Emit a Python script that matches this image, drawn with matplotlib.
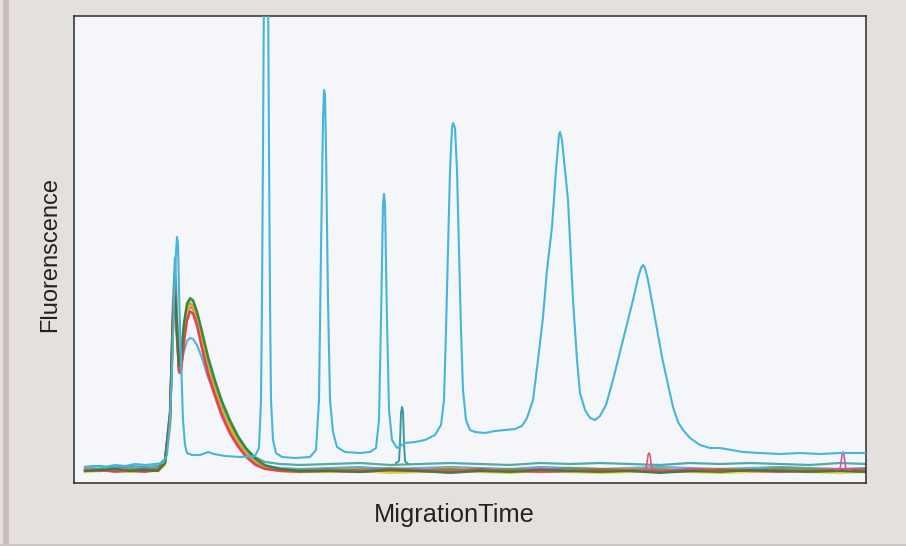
import matplotlib
matplotlib.use("Agg")
import matplotlib.pyplot as plt
from matplotlib.patches import Rectangle

# ---------------- data (time in arbitrary units, fluorescence in arbitrary units) -------------
ladder_time = [85, 95, 105, 115, 125, 135, 145, 155, 163, 167, 170, 172, 174, 176, 177, 178, 179, 181,
               183, 185, 187, 192, 200, 208, 214, 225, 240, 255, 259, 261, 262, 263, 264, 268, 269, 270,
               271, 273, 276, 282, 295, 310, 316, 319, 321, 323, 324, 325, 326, 328, 330, 333, 337, 345,
               360, 370, 376, 379, 381, 383, 384, 385, 387, 389, 392, 397, 405, 415, 425, 435, 441, 444,
               446, 448, 450, 452, 453, 455, 457, 459, 461, 463, 466, 470, 475, 485, 495, 505, 515, 522,
               527, 533, 538, 543, 547, 552, 556, 559, 560, 562, 565, 568, 573, 577, 580, 585, 590, 595,
               600, 606, 613, 618, 623, 628, 633, 638, 641, 643, 645, 648, 653, 658, 662, 667, 673, 678,
               683, 690, 700, 710, 720, 743, 760, 780, 800, 820, 840, 866]
ladder_pixel_y = [467, 466, 467, 465, 466, 464, 465, 464, 463, 455, 420, 370, 300, 252, 237, 245, 290, 360,
                  420, 445, 453, 455, 455, 452, 454, 456, 457, 456, 448, 400, 300, 150, -20, -20, 150, 300,
                  400, 440, 453, 457, 458, 457, 450, 400, 250, 120, 90, 95, 150, 300, 400, 432, 447, 452,
                  453, 452, 448, 420, 320, 205, 194, 205, 320, 410, 440, 448, 443, 442, 440, 435, 425, 400,
                  330, 250, 170, 128, 123, 128, 170, 250, 330, 390, 420, 430, 432, 433, 431, 430, 429, 426,
                  418, 400, 360, 317, 270, 227, 170, 135, 132, 140, 170, 200, 300, 360, 393, 410, 418, 420,
                  416, 405, 380, 360, 340, 320, 300, 278, 268, 265, 268, 280, 307, 335, 357, 380, 407, 422,
                  430, 438, 445, 448, 448, 452, 453, 454, 453, 454, 453, 453]
ladder_signal = [483 - v for v in ladder_pixel_y]

sample_time = [85, 100, 115, 130, 145, 158, 165, 170, 173, 175, 177, 179, 181, 184, 187, 190, 193, 197,
               202, 208, 215, 222, 230, 238, 246, 255, 265, 280, 300, 330, 360, 390, 420, 450, 480, 510,
               540, 570, 600, 630, 660, 690, 720, 750, 780, 810, 840, 866]

sample_red = [12, 13, 11, 12, 11, 13, 22, 70, 175, 195, 150, 112, 110, 140, 163, 172, 170, 158, 135, 110,
              88, 68, 50, 37, 27, 19, 14, 12, 11,
              12, 11, 13, 12, 11, 13, 12, 11, 12, 13, 12, 11, 12, 13, 12, 11, 12, 13, 12]
sample_orange = [14, 12, 13, 14, 12, 13, 20, 60, 160, 185, 148, 115, 122, 155, 175, 180, 177, 163, 140, 114,
                 91, 71, 53, 39, 29, 20, 15, 13, 12,
                 13, 14, 12, 13, 15, 12, 13, 14, 12, 13, 14, 12, 13, 14, 13, 12, 14, 13, 14]
sample_yellow = [11, 12, 13, 11, 12, 12, 18, 55, 150, 180, 140, 112, 118, 150, 170, 178, 176, 165, 143, 117,
                 94, 74, 56, 41, 30, 21, 15, 12, 11,
                 11, 12, 10, 11, 12, 11, 10, 12, 11, 10, 11, 12, 11, 10, 11, 12, 11, 10, 11]
sample_green = [13, 14, 12, 14, 13, 14, 24, 72, 170, 190, 152, 120, 128, 160, 178, 183, 182, 170, 150, 124,
                100, 80, 61, 46, 34, 24, 17, 14, 13,
                14, 13, 15, 13, 14, 12, 14, 13, 15, 14, 13, 14, 12, 14, 13, 15, 14, 13, 14]
sample_darkgreen = [12, 13, 14, 12, 13, 12, 20, 64, 162, 188, 150, 118, 125, 160, 180, 185, 183, 172, 152, 127,
                    103, 82, 63, 47, 35, 25, 18, 14, 12,
                    12, 11, 13, 12, 10, 12, 11, 13, 12, 11, 12, 10, 12, 11, 13, 12, 11, 12, 11]
sample_magenta = [13, 12, 14, 13, 12, 13, 21, 66, 168, 188, 146, 110, 112, 142, 162, 171, 169, 157, 134, 108,
                  86, 66, 49, 36, 26, 18, 14, 13, 12,
                  13, 12, 14, 13, 12, 13, 12, 14, 13, 12, 13, 12, 14, 13, 12, 13, 12, 14, 13]
sample_purple = [12, 13, 12, 13, 14, 12, 19, 58, 155, 182, 145, 113, 120, 152, 170, 176, 175, 163, 141, 115,
                 92, 72, 54, 40, 29, 20, 15, 12, 12,
                 12, 13, 12, 11, 13, 12, 13, 12, 11, 12, 13, 12, 11, 13, 12, 12, 13, 12, 11]
sample_blue = [15, 14, 16, 15, 14, 15, 22, 68, 165, 205, 160, 125, 118, 132, 142, 145, 144, 138, 125, 106,
               88, 70, 54, 41, 31, 22, 17, 15, 14,
               15, 16, 14, 15, 16, 15, 14, 16, 15, 14, 15, 16, 15, 14, 15, 16, 15, 14, 15]
sample_teal = [16, 17, 15, 17, 16, 17, 24, 70, 180, 225, 170, 125, 125, 155, 173, 179, 178, 167, 146, 120,
               97, 77, 59, 45, 34, 26, 21, 19, 18,
               19, 20, 18, 19, 20, 19, 18, 20, 19, 20, 19, 18, 20, 19, 20, 19, 18, 20, 19]
sample_brown = [13, 12, 13, 12, 13, 14, 20, 62, 158, 184, 146, 114, 119, 150, 171, 177, 176, 164, 142, 116,
                93, 73, 55, 41, 30, 21, 16, 13, 12,
                12, 14, 13, 12, 13, 14, 12, 13, 12, 14, 13, 12, 13, 14, 12, 13, 12, 13, 14]

teal_spike_time = [396, 399, 400, 401, 402, 403, 404, 405, 408]
teal_spike_signal = [20, 22, 40, 70, 76, 72, 40, 22, 19]
pink_spike_time = [642, 646, 647, 648, 649, 650, 651, 652, 656]
pink_spike_signal = [13, 14, 20, 28, 30, 28, 20, 14, 13]
magenta_spike_time = [836, 840, 841, 842, 843, 844, 845, 846, 850]
magenta_spike_signal = [13, 14, 20, 28, 31, 28, 20, 14, 13]

# ---------------- figure ----------------
W, H = 906, 546
fig = plt.figure(figsize=(W / 100, H / 100), dpi=100, facecolor="#e4e0dd")
fig.patches.append(Rectangle((3 / W, 0), 6 / W, 1, transform=fig.transFigure,
                             facecolor="#c9bdb8", edgecolor="none", zorder=0))
fig.patches.append(Rectangle((0, 0), 1, 2 / H, transform=fig.transFigure,
                             facecolor="#cfc6c2", edgecolor="none", zorder=0))

ax = fig.add_axes([74 / W, (H - 483) / H, 792 / W, 467 / H])
ax.set_facecolor("#f4f6f9")
ax.set_xlim(74, 866)
ax.set_ylim(0, 467)
ax.set_xticks([])
ax.set_yticks([])
for s in ax.spines.values():
    s.set_color("#2a2a2a")
    s.set_linewidth(1.1)

samples = [
    (sample_blue, "#4aa3d8"),
    (sample_teal, "#3a9b9b"),
    (sample_brown, "#8a6d4a"),
    (sample_purple, "#7d4c9e"),
    (sample_yellow, "#e2cc2a"),
    (sample_orange, "#f0982e"),
    (sample_green, "#4aa84a"),
    (sample_magenta, "#d9488f"),
    (sample_red, "#e4403f"),
    (sample_darkgreen, "#2f7d3a"),
]
for vals, col in samples:
    n = min(len(vals), len(sample_time))
    ax.plot(sample_time[:n], vals[:n], color=col, lw=1.6, alpha=0.85, zorder=2)

ax.plot(teal_spike_time, teal_spike_signal, color="#3a9b9b", lw=1.4, zorder=2)
ax.plot(pink_spike_time, pink_spike_signal, color="#e2586f", lw=1.2, zorder=2)
ax.plot(magenta_spike_time, magenta_spike_signal, color="#c95aa8", lw=1.2, zorder=2)

ax.plot(ladder_time, ladder_signal, color="#45b5dc", lw=1.5, zorder=3)

fig.text(50 / W, 1 - 254 / H, "Fluorenscence", rotation=90, ha="center", va="center",
         fontsize=17, family="Liberation Sans", color="#222222")
fig.text(454 / W, 1 - 515 / H, "MigrationTime", ha="center", va="center",
         fontsize=18.3, family="Liberation Sans", color="#222222")

fig.savefig("out.png", dpi=100, facecolor=fig.get_facecolor())
